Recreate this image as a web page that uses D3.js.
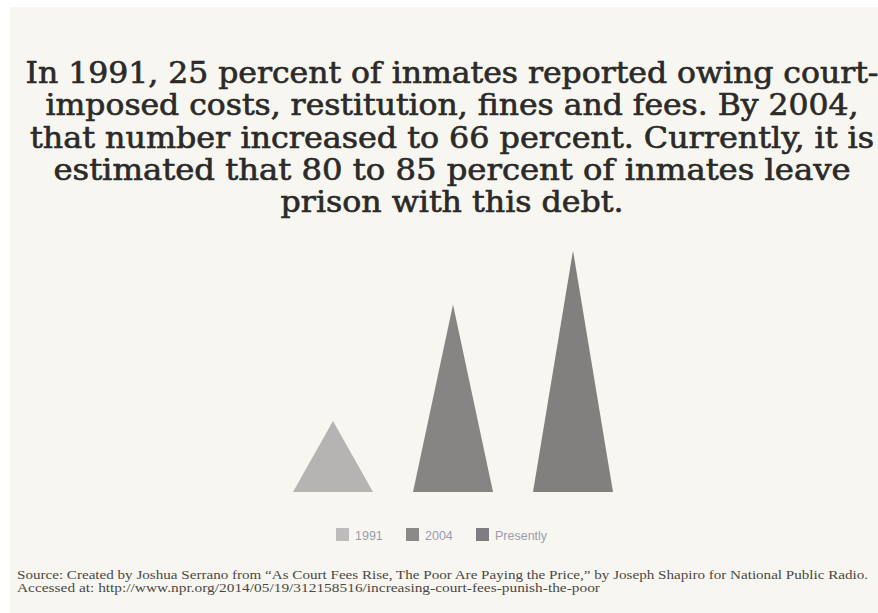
<!DOCTYPE html>
<html>
<head>
<meta charset="utf-8">
<script src="https://cdn.jsdelivr.net/npm/d3@7"></script>
<style>
  html, body { margin: 0; padding: 0; background: #ffffff; }
  svg { display: block; }
</style>
</head>
<body>
<svg id="chart" width="878" height="613"></svg>
<script>
// Share of inmates owing court-imposed debt
const categories = ["1991", "2004", "Presently"];
const values = [25, 66, 85];
const colors = ["#b6b4b2", "#878584", "#81807f"];
const legendColors = ["#bdbbbb", "#8b8989", "#7f7d82"];

const titleLines = [
  "In 1991, 25 percent of inmates reported owing court-",
  "imposed costs, restitution, fines and fees. By 2004,",
  "that number increased to 66 percent. Currently, it is",
  "estimated that 80 to 85 percent of inmates leave",
  "prison with this debt."
];
const titleWidths = [853, 813, 844, 797, 343];

const sourceLines = [
  "Source: Created by Joshua Serrano from \u201CAs Court Fees Rise, The Poor Are Paying the Price,\u201D by Joseph Shapiro for National Public Radio.",
  "Accessed at: http://www.npr.org/2014/05/19/312158516/increasing-court-fees-punish-the-poor"
];
const sourceWidths = [851, 583];

const svg = d3.select("#chart");

// panel background
svg.append("rect")
  .attr("x", 10).attr("y", 7)
  .attr("width", 868).attr("height", 606)
  .attr("fill", "#f8f6f0");

// title block
svg.append("g")
  .selectAll("text")
  .data(titleLines)
  .join("text")
  .attr("x", 452)
  .attr("y", (d, i) => 83 + i * 32.3)
  .attr("text-anchor", "middle")
  .attr("font-family", "'DejaVu Serif Condensed', 'DejaVu Serif', serif")
  .attr("font-size", 30)
  .attr("fill", "#2b2a29")
  .attr("stroke", "#2b2a29")
  .attr("stroke-width", 0.6)
  .attr("textLength", (d, i) => titleWidths[i])
  .attr("lengthAdjust", "spacingAndGlyphs")
  .text(d => d);

// scales
const x = d3.scaleBand()
  .domain(categories)
  .range([293, 613])
  .paddingInner(1 / 3)
  .paddingOuter(0);

const y = d3.scaleLinear()
  .domain([0, 100])
  .range([492, 208]);

// triangular bars
svg.append("g")
  .selectAll("path")
  .data(categories)
  .join("path")
  .attr("d", (c, i) => {
    const x0 = x(c), x1 = x(c) + x.bandwidth();
    const xm = x(c) + x.bandwidth() / 2;
    return `M${x0},${y(0)}L${x1},${y(0)}L${xm},${y(values[i])}Z`;
  })
  .attr("fill", (c, i) => colors[i]);

// legend
const legendX = [336, 406, 476];
const legend = svg.append("g")
  .selectAll("g")
  .data(categories)
  .join("g")
  .attr("transform", (c, i) => `translate(${legendX[i]},528)`);

legend.append("rect")
  .attr("width", 13).attr("height", 13)
  .attr("fill", (c, i) => legendColors[i]);

legend.append("text")
  .attr("x", 19).attr("y", 11.5)
  .attr("font-family", "'Liberation Sans', Arial, sans-serif")
  .attr("font-size", 12.5)
  .attr("fill", "#9c9cb2")
  .text(c => c);

// source note
svg.append("g")
  .selectAll("text")
  .data(sourceLines)
  .join("text")
  .attr("x", 17)
  .attr("y", (d, i) => 579 + i * 12.5)
  .attr("font-family", "'Liberation Serif', 'Times New Roman', serif")
  .attr("font-size", 11.5)
  .attr("fill", "#4a4845")
  .attr("textLength", (d, i) => sourceWidths[i])
  .attr("lengthAdjust", "spacingAndGlyphs")
  .text(d => d);
</script>
</body>
</html>
